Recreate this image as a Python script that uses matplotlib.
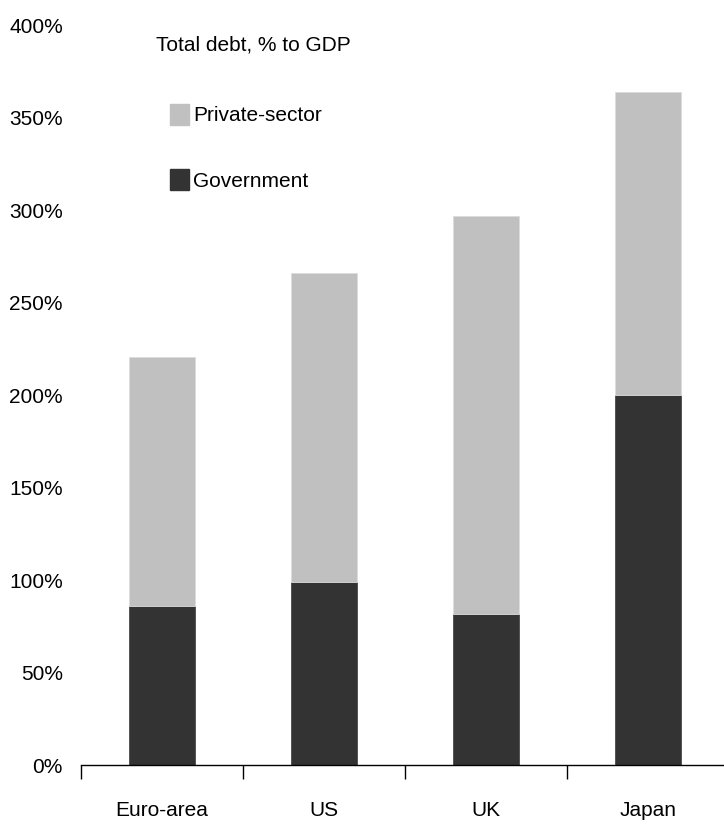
import numpy as np
import matplotlib.pyplot as plt
from matplotlib.patches import Patch

# Total debt, % of GDP
countries = ['Euro-area', 'US', 'UK', 'Japan']
government = [86, 99, 81.5, 200]
total_debt = [220.5, 266, 297, 364]
private_sector = [t - g for t, g in zip(total_debt, government)]
yticks = [0, 50, 100, 150, 200, 250, 300, 350, 400]

plt.rcParams['font.family'] = ['Liberation Sans', 'DejaVu Sans']
FS = 15

fig = plt.figure(figsize=(7.24, 8.31), dpi=100)
ax = fig.add_axes([0.1119, 0.0794, 0.895, 0.8905])

x = np.arange(len(countries))
w = 0.41
ax.bar(x, government, width=w, color='#333333', edgecolor='#4a4a4a', linewidth=0.6)
ax.bar(x, private_sector, width=w, bottom=government, color='#c0c0c0',
       edgecolor='#dcdcdc', linewidth=0.6)

ax.set_xlim(-0.5, 3.5)
ax.set_ylim(0, 400)

ax.set_yticks(yticks)
ax.set_yticklabels([f'{v}%' for v in yticks], fontsize=FS)
ax.tick_params(axis='y', length=0, pad=13)

ax.set_xticks(x)
ax.set_xticklabels(countries, fontsize=FS)
ax.tick_params(axis='x', which='major', length=0, pad=26)
ax.set_xticks(np.arange(-0.5, 4.0, 1.0), minor=True)
ax.tick_params(axis='x', which='minor', length=10, width=1, direction='out', color='black')

for s in ['top', 'right', 'left']:
    ax.spines[s].set_visible(False)
ax.spines['bottom'].set_linewidth(1)

fig.text(156 / 724, 1 - 45 / 831, 'Total debt, % to GDP', fontsize=FS,
         ha='left', va='center')

handles = [Patch(facecolor='#c0c0c0', edgecolor='#c0c0c0', label='Private-sector'),
           Patch(facecolor='#333333', edgecolor='#333333', label='Government')]
ax.legend(handles=handles, loc='upper left', bbox_to_anchor=(170 / 724, 1 - 104 / 831),
          bbox_transform=fig.transFigure, frameon=False, fontsize=FS,
          handlelength=0.92, handleheight=1.15, handletextpad=0.2, labelspacing=2.1,
          borderpad=0, borderaxespad=0)

plt.savefig('out.png', dpi=100)
